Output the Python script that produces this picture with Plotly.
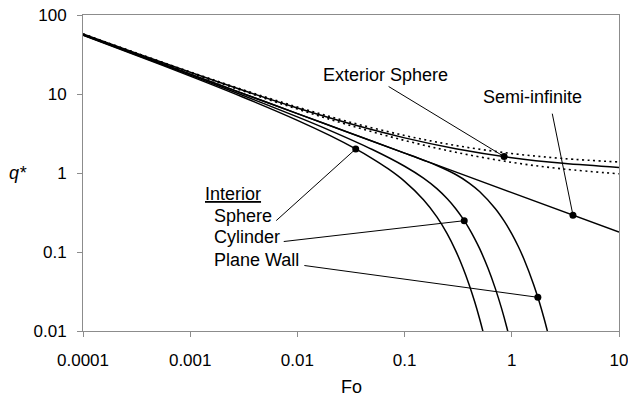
import numpy as np
import plotly.graph_objects as go

# ---------------- data ----------------
semi_fo = [1e-4, 1e-3, 1e-2, 0.1, 1, 10]
semi_q = [56.42, 17.84, 5.642, 1.784, 0.5642, 0.1784]

ext_fo = [1e-4, 3e-4, 1e-3, 3e-3, 0.01, 0.03, 0.1, 0.3, 1, 3, 10]
ext_q = [57.42, 33.57, 18.84, 11.30, 6.642, 4.257, 2.784, 2.030, 1.564, 1.326, 1.178]
ext_hi = [57.62, 33.77, 19.04, 11.50, 6.842, 4.457, 2.984, 2.230, 1.764, 1.526, 1.378]
ext_lo = [57.22, 33.37, 18.64, 11.10, 6.442, 4.057, 2.584, 1.830, 1.364, 1.126, 0.978]

sph_fo = [1e-4, 3e-4, 1e-3, 3e-3, 0.01, 0.02, 0.035, 0.05, 0.07, 0.1, 0.15, 0.2,
          0.25, 0.3, 0.35, 0.4, 0.45, 0.5, 0.55, 0.6]
sph_q = [55.42, 31.57, 16.84, 9.30, 4.642, 2.989, 2.016, 1.523, 1.133, 0.784, 0.460,
         0.2785, 0.1697, 0.1035, 0.0632, 0.0386, 0.0236, 0.0144, 0.00878, 0.00536]

cyl_fo = [1e-4, 3e-4, 1e-3, 3e-3, 0.01, 0.02, 0.05, 0.1, 0.15, 0.2, 0.25, 0.3, 0.35,
          0.4, 0.45, 0.5, 0.6, 0.7, 0.8, 0.9, 1.0]
cyl_q = [55.92, 32.07, 17.33, 9.79, 5.128, 3.467, 1.985, 1.218, 0.861, 0.634, 0.472,
         0.353, 0.264, 0.198, 0.148, 0.111, 0.0622, 0.0349, 0.0196, 0.0110, 0.00616]

pw_fo = [1e-4, 3e-4, 1e-3, 3e-3, 0.01, 0.03, 0.1, 0.15, 0.2, 0.3, 0.4, 0.5, 0.7,
         0.85, 1.0, 1.15, 1.3, 1.6, 1.8, 2.0, 2.2]
pw_q = [56.42, 32.57, 17.84, 10.30, 5.642, 3.257, 1.784, 1.453, 1.245, 0.957, 0.746,
        0.5825, 0.3555, 0.2456, 0.1696, 0.1172, 0.0809, 0.0386, 0.0236, 0.01438, 0.00878]

# labelled points: sphere, cylinder, plane wall, exterior sphere, semi-infinite
dot_fo = [0.035, 0.36, 1.75, 0.848, 3.72]
dot_q = [2.016, 0.249, 0.0267, 1.613, 0.2925]

x_ticks = [1e-4, 1e-3, 1e-2, 1e-1, 1, 10]
x_ticktext = ["0.0001", "0.001", "0.01", "0.1", "1", "10"]
y_ticks = [0.01, 0.1, 1, 10, 100]
y_ticktext = ["0.01", "0.1", "1", "10", "100"]

# ---------------- layout geometry ----------------
W, H = 628, 400
L, R, T, B = 83, 9, 15, 69
PW, PH = W - L - R, H - T - B
FONT = "Liberation Sans, Arial, sans-serif"


def px(xp):
    return (xp - L) / PW


def py(yp):
    return (H - B - yp) / PH


fig = go.Figure()

dot_line = dict(color="black", width=1.6, dash="2px,3.5px")
for yq in (ext_hi, ext_lo):
    fig.add_trace(go.Scatter(x=ext_fo, y=yq, mode="lines", line=dot_line,
                             line_shape="spline", hoverinfo="skip"))

solid = dict(color="black", width=1.5)
for xs, ys in ((ext_fo, ext_q), (semi_fo, semi_q), (pw_fo, pw_q),
               (cyl_fo, cyl_q), (sph_fo, sph_q)):
    fig.add_trace(go.Scatter(x=xs, y=ys, mode="lines", line=solid,
                             line_shape="spline", hoverinfo="skip"))

fig.add_trace(go.Scatter(x=dot_fo, y=dot_q, mode="markers",
                         marker=dict(color="black", size=7), hoverinfo="skip"))

# leader lines (tail offsets in pixels from the dot)
tails = [(-81, 73), (-182, 21), (-235, -32), (-117, -71), (-21, -103)]
for (f, q), (ax, ay) in zip(zip(dot_fo, dot_q), tails):
    fig.add_annotation(x=np.log10(f), y=np.log10(q), xref="x", yref="y",
                       text="", showarrow=True, arrowhead=0, arrowwidth=1,
                       arrowcolor="black", ax=ax, ay=ay, standoff=0,
                       startstandoff=0)

labels = [
    ("Exterior Sphere", 385, 75, "center"),
    ("Semi-infinite", 532, 97, "center"),
    ("<span style='text-decoration:underline'>Interior</span>", 203, 194, "left"),
    ("Sphere", 212, 216, "left"),
    ("Cylinder", 212, 237, "left"),
    ("Plane Wall", 212, 260, "left"),
]
for txt, xp, yp, anc in labels:
    fig.add_annotation(x=px(xp), y=py(yp), xref="paper", yref="paper", text=txt,
                       showarrow=False, xanchor=anc, yanchor="middle",
                       font=dict(family=FONT, size=18, color="black"))

fig.add_annotation(x=px(351), y=py(387), xref="paper", yref="paper", text="Fo",
                   showarrow=False, xanchor="center", yanchor="middle",
                   font=dict(family=FONT, size=18, color="black"))
fig.add_annotation(x=px(18), y=py(173), xref="paper", yref="paper",
                   text="<i>q*</i>", showarrow=False, xanchor="center",
                   yanchor="middle", font=dict(family=FONT, size=18, color="black"))

axis_common = dict(type="log", showgrid=False, zeroline=False, showline=True,
                   linecolor="#8c8c8c", linewidth=1, mirror=True, ticks="outside",
                   ticklen=5, tickcolor="#8c8c8c", tickwidth=1, automargin=False,
                   ticklabeloverflow="allow",
                   tickfont=dict(family=FONT, size=17, color="black"))
fig.update_xaxes(range=[-4, 1], tickvals=x_ticks, ticktext=x_ticktext,
                 ticklabelstandoff=9, **axis_common)
fig.update_yaxes(range=[-2, 2], tickvals=y_ticks, ticktext=y_ticktext,
                 ticklabelstandoff=7, **axis_common)

fig.update_layout(width=W, height=H, margin=dict(l=L, r=R, t=T, b=B),
                  paper_bgcolor="white", plot_bgcolor="white", showlegend=False)

fig.write_html("out.html")
